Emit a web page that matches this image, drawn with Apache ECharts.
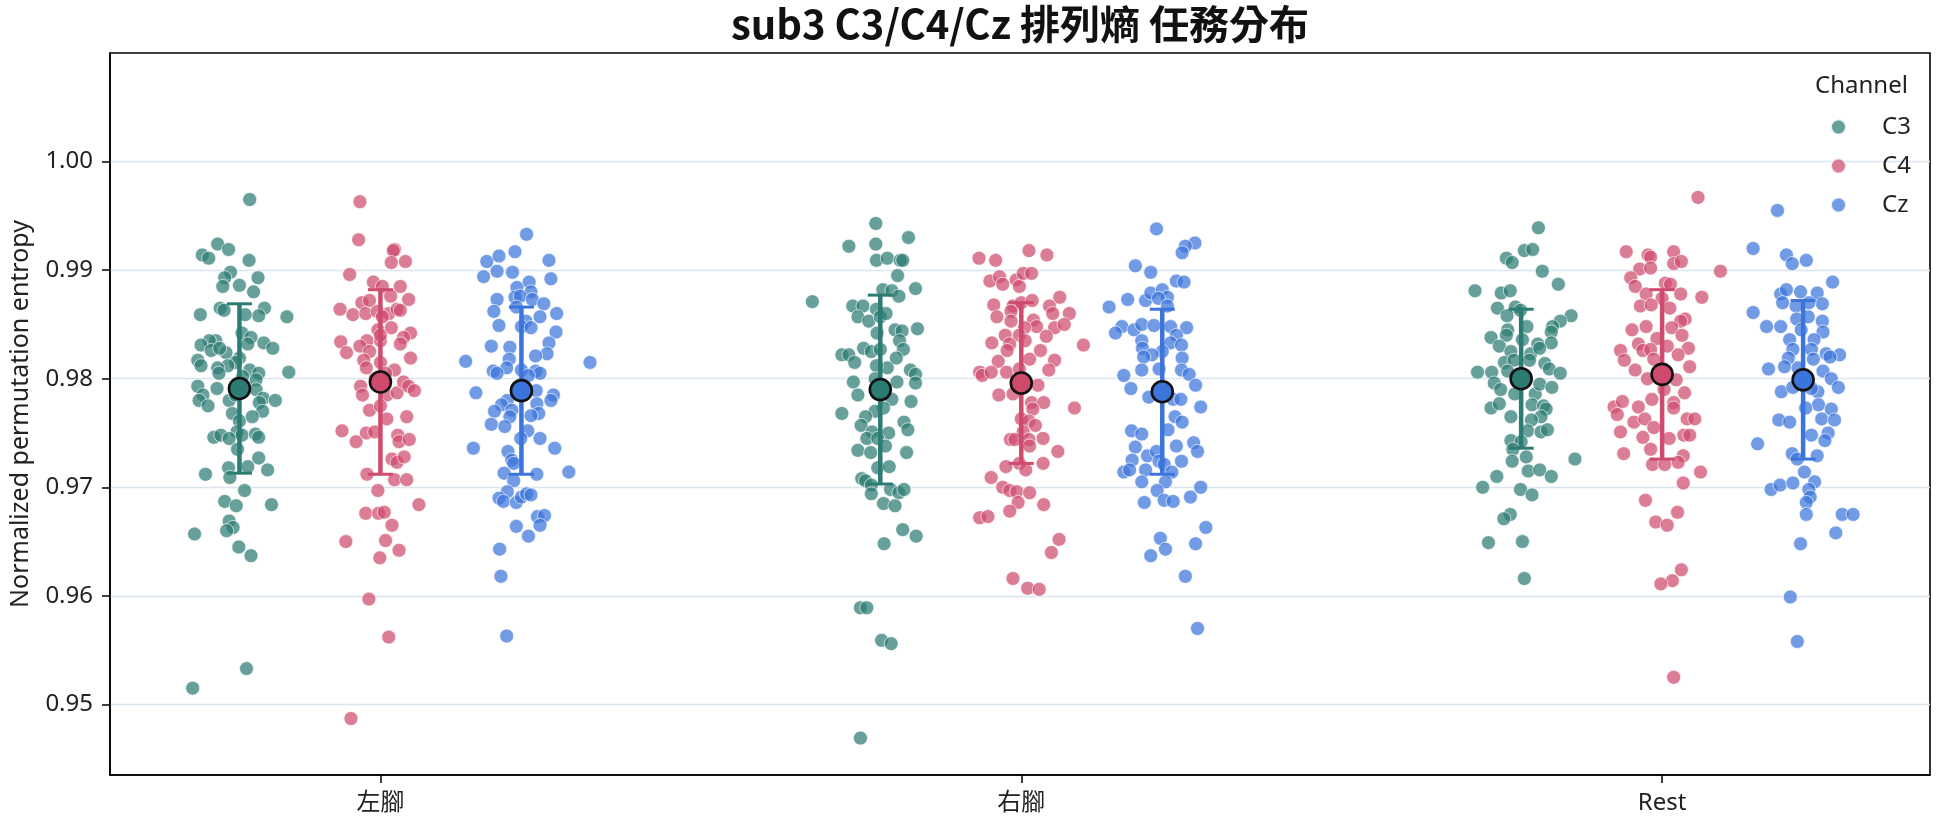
<!DOCTYPE html>
<html>
<head>
<meta charset="utf-8">
<script src="https://cdn.jsdelivr.net/npm/echarts@6/dist/echarts.min.js"></script>
<style>
html,body{margin:0;padding:0;background:#fff;}
#chart{width:1944px;height:827px;}
</style>
</head>
<body>
<div id="chart"></div>
<script>
const TITLE = 'sub3 C3/C4/Cz 排列熵 任務分布';
const Y_NAME = 'Normalized permutation entropy';
const LEGEND_TITLE = 'Channel';
const categories = ['左腳', '右腳', 'Rest'];
const channels = ['C3', 'C4', 'Cz'];
const hueOffsets = [-0.22, 0, 0.22];
const yTicks = [0.95, 0.96, 0.97, 0.98, 0.99, 1.00];
const baseColors = ['#2c7c73', '#cf4b6e', '#3b74db'];

// Each entry: [entropy value, horizontal jitter in category units]
const leftC3 = [[0.9965,0.016],[0.9924,-0.034],[0.9919,-0.017],[0.9914,-0.058],[0.9911,-0.048],[0.9909,0.015],[0.9898,-0.014],[0.9893,-0.023],[0.9893,0.029],[0.9886,0],[0.9885,-0.026],[0.9880,0.022],[0.9865,0.039],[0.9865,-0.030],[0.9863,-0.024],[0.9859,-0.061],[0.9858,0.030],[0.9859,0.009],[0.9857,0.074],[0.9842,0.004],[0.9838,0.018],[0.9835,-0.037],[0.9835,-0.047],[0.9831,-0.060],[0.9833,0.038],[0.9828,0.052],[0.9832,0.013],[0.9824,-0.021],[0.9826,-0.044],[0.9828,-0.031],[0.9817,-0.065],[0.9812,-0.060],[0.9819,0],[0.9815,-0.006],[0.9812,-0.018],[0.9810,-0.034],[0.9805,-0.032],[0.9808,0.016],[0.9805,0.030],[0.9806,0.077],[0.9802,0.005],[0.9799,0.026],[0.9793,-0.065],[0.9791,-0.035],[0.9785,-0.057],[0.9780,-0.063],[0.9775,-0.049],[0.9780,-0.016],[0.9790,0.026],[0.9782,0.037],[0.9780,0.056],[0.9778,0.031],[0.9770,0.036],[0.9768,-0.011],[0.9761,0],[0.9765,0.020],[0.9751,-0.004],[0.9746,-0.040],[0.9748,-0.029],[0.9745,-0.016],[0.9748,0.004],[0.9749,0.025],[0.9746,0.030],[0.9735,-0.003],[0.9727,0.030],[0.9718,-0.017],[0.9719,0.013],[0.9712,-0.053],[0.9716,0.044],[0.9709,-0.015],[0.9697,0.008],[0.9687,-0.023],[0.9683,-0.005],[0.9684,0.050],[0.9669,-0.016],[0.9663,-0.010],[0.9660,-0.020],[0.9657,-0.070],[0.9645,-0.001],[0.9637,0.018],[0.9533,0.011],[0.9515,-0.073],[0.9795,-0.003],[0.9785,-0.006]];
const leftC4 = [[0.9963,-0.032],[0.9928,-0.034],[0.9919,0.022],[0.9918,0.020],[0.9907,0.017],[0.9908,0.039],[0.9896,-0.048],[0.9889,-0.011],[0.9885,0.003],[0.9885,0.031],[0.9873,0.044],[0.9876,0.016],[0.9870,-0.029],[0.9872,-0.017],[0.9864,-0.063],[0.9859,-0.043],[0.9860,-0.023],[0.9862,-0.005],[0.9860,0.013],[0.9864,0.026],[0.9863,0.031],[0.9857,0.003],[0.9847,0.017],[0.9845,-0.004],[0.9842,0.047],[0.9838,0.036],[0.9834,-0.062],[0.9835,-0.021],[0.9830,-0.032],[0.9835,0],[0.9832,0.031],[0.9824,-0.053],[0.9825,-0.017],[0.9819,0.047],[0.9817,-0.026],[0.9815,0],[0.9810,-0.022],[0.9808,0.022],[0.9805,0.008],[0.9793,-0.031],[0.9785,-0.028],[0.9785,0.010],[0.9787,0.026],[0.9797,0.036],[0.9793,0.044],[0.9789,0.053],[0.9771,-0.017],[0.9763,0.010],[0.9765,0.041],[0.9752,-0.060],[0.9750,-0.022],[0.9751,-0.009],[0.9742,-0.038],[0.9748,0.027],[0.9742,0.029],[0.9744,0.045],[0.9726,0.018],[0.9723,0.026],[0.9728,0.037],[0.9712,-0.021],[0.9707,0.022],[0.9707,0.041],[0.9697,-0.004],[0.9684,0.060],[0.9676,-0.023],[0.9676,-0.003],[0.9677,0.006],[0.9665,0.018],[0.9650,-0.054],[0.9651,0.008],[0.9642,0.029],[0.9635,-0.001],[0.9597,-0.018],[0.9562,0.013],[0.9487,-0.046],[0.9840,0],[0.9800,-0.008],[0.9775,0]];
const leftCz = [[0.9933,0.008],[0.9908,-0.054],[0.9913,-0.035],[0.9917,-0.010],[0.9909,0.043],[0.9894,-0.059],[0.9899,-0.038],[0.9898,-0.014],[0.9892,0.046],[0.9889,0.012],[0.9884,-0.007],[0.9880,0.015],[0.9875,-0.010],[0.9876,-0.002],[0.9873,0.017],[0.9873,-0.038],[0.9869,0.035],[0.9862,-0.043],[0.9866,-0.008],[0.9860,0.055],[0.9857,0.029],[0.9853,0.007],[0.9849,-0.035],[0.9848,0],[0.9847,0.015],[0.9843,0.054],[0.9833,0.043],[0.9830,-0.047],[0.9829,-0.018],[0.9823,0.040],[0.9821,0.022],[0.9816,-0.087],[0.9815,0.107],[0.9818,-0.019],[0.9810,-0.023],[0.9807,-0.044],[0.9805,-0.038],[0.9808,0],[0.9807,0.022],[0.9805,0.029],[0.9803,0.011],[0.9787,-0.071],[0.9789,0.023],[0.9785,0.050],[0.9780,0.046],[0.9780,-0.022],[0.9776,-0.031],[0.9770,-0.042],[0.9771,-0.015],[0.9777,0.024],[0.9768,0.027],[0.9766,0.015],[0.9765,-0.018],[0.9758,-0.047],[0.9756,-0.026],[0.9752,0.010],[0.9745,-0.001],[0.9745,0.029],[0.9736,-0.075],[0.9736,0.052],[0.9733,-0.021],[0.9725,-0.015],[0.9722,-0.012],[0.9714,0.074],[0.9713,-0.027],[0.9712,0.024],[0.9706,-0.012],[0.9696,-0.022],[0.9690,-0.035],[0.9687,-0.028],[0.9686,-0.008],[0.9691,0],[0.9694,0.008],[0.9693,0.015],[0.9673,0.025],[0.9674,0.036],[0.9665,0.029],[0.9664,-0.008],[0.9655,0.011],[0.9643,-0.034],[0.9618,-0.032],[0.9563,-0.023]];
const rightC3 = [[0.9943,-0.007],[0.9930,0.044],[0.9922,-0.049],[0.9924,-0.007],[0.9909,-0.006],[0.9911,0.011],[0.9909,0.031],[0.9909,0.035],[0.9895,0.027],[0.9882,0.004],[0.9881,0.018],[0.9876,0.029],[0.9883,0.055],[0.9871,-0.106],[0.9867,-0.043],[0.9867,-0.027],[0.9864,-0.006],[0.9857,-0.035],[0.9853,-0.018],[0.9857,0],[0.9860,0.009],[0.9846,0.058],[0.9845,0.023],[0.9844,0.034],[0.9842,-0.005],[0.9835,0.030],[0.9827,0.036],[0.9828,-0.026],[0.9825,-0.014],[0.9822,-0.060],[0.9822,-0.049],[0.9815,-0.040],[0.9827,0],[0.9819,0.025],[0.9810,0.011],[0.9812,-0.006],[0.9808,0.047],[0.9804,0.055],[0.9796,0.055],[0.9797,-0.042],[0.9797,0.026],[0.9800,-0.008],[0.9785,-0.035],[0.9781,0.018],[0.9779,0.048],[0.9773,0.005],[0.9768,-0.060],[0.9770,-0.008],[0.9765,-0.023],[0.9757,-0.030],[0.9760,0.037],[0.9753,0.043],[0.9750,0.013],[0.9751,-0.013],[0.9745,-0.021],[0.9745,-0.004],[0.9738,0.008],[0.9734,-0.035],[0.9732,-0.015],[0.9732,0.041],[0.9718,-0.004],[0.9719,0.014],[0.9708,-0.029],[0.9706,-0.023],[0.9702,-0.014],[0.9698,0.016],[0.9695,0.029],[0.9698,0.037],[0.9694,-0.014],[0.9685,0.005],[0.9683,0.023],[0.9661,0.035],[0.9655,0.056],[0.9648,0.006],[0.9589,-0.031],[0.9589,-0.021],[0.9559,0.002],[0.9556,0.017],[0.9469,-0.031]];
const rightC4 = [[0.9918,0.012],[0.9914,0.040],[0.9911,-0.066],[0.9909,-0.040],[0.9890,-0.049],[0.9894,-0.034],[0.9887,-0.029],[0.9891,-0.008],[0.9885,-0.003],[0.9897,0.003],[0.9897,0.016],[0.9875,0.060],[0.9868,-0.043],[0.9867,-0.013],[0.9870,0],[0.9872,0.017],[0.9867,0.044],[0.9860,0.049],[0.9860,0.075],[0.9857,-0.038],[0.9862,-0.016],[0.9853,-0.016],[0.9854,0.019],[0.9848,0.024],[0.9847,0.052],[0.9850,0.067],[0.9847,0.005],[0.9840,-0.025],[0.9840,-0.003],[0.9839,0.039],[0.9831,0.097],[0.9833,-0.046],[0.9832,-0.018],[0.9835,0.006],[0.9826,0.030],[0.9826,-0.022],[0.9818,0.013],[0.9816,-0.036],[0.9817,0.052],[0.9806,-0.065],[0.9803,-0.061],[0.9806,-0.047],[0.9806,-0.023],[0.9809,-0.003],[0.9808,0.043],[0.9794,0.026],[0.9785,-0.035],[0.9786,-0.013],[0.9778,0.016],[0.9778,0.035],[0.9773,0.083],[0.9772,0.018],[0.9763,0],[0.9761,0.012],[0.9757,0.022],[0.9751,0.003],[0.9744,-0.017],[0.9744,-0.010],[0.9744,0.012],[0.9745,0.034],[0.9733,0.057],[0.9738,0.013],[0.9719,-0.024],[0.9722,-0.003],[0.9716,0.007],[0.9722,0.034],[0.9709,-0.047],[0.9700,-0.029],[0.9697,-0.018],[0.9696,-0.007],[0.9695,0.013],[0.9684,0.035],[0.9686,-0.005],[0.9678,-0.018],[0.9672,-0.065],[0.9673,-0.052],[0.9652,0.059],[0.9640,0.047],[0.9616,-0.013],[0.9607,0.010],[0.9606,0.028]];
const rightCz = [[0.9938,-0.009],[0.9925,0.051],[0.9922,0.036],[0.9916,0.031],[0.9904,-0.042],[0.9898,-0.018],[0.9890,0.022],[0.9889,0.034],[0.9866,-0.083],[0.9873,-0.054],[0.9872,-0.026],[0.9879,-0.018],[0.9882,0],[0.9875,0.008],[0.9874,-0.006],[0.9867,0.008],[0.9848,-0.063],[0.9842,-0.073],[0.9845,-0.044],[0.9850,-0.032],[0.9849,-0.013],[0.9848,0.013],[0.9847,0.038],[0.9840,0.022],[0.9835,-0.032],[0.9833,0.013],[0.9831,0.030],[0.9828,-0.031],[0.9825,0],[0.9822,-0.016],[0.9820,-0.029],[0.9819,0.031],[0.9808,-0.032],[0.9809,-0.005],[0.9808,0.030],[0.9804,0.042],[0.9803,-0.060],[0.9791,-0.049],[0.9794,0.052],[0.9783,-0.021],[0.9781,0.017],[0.9781,0.029],[0.9774,0.060],[0.9765,0.020],[0.9760,0.031],[0.9753,0.009],[0.9752,-0.048],[0.9749,-0.032],[0.9737,-0.042],[0.9738,0.022],[0.9741,0.049],[0.9733,0.055],[0.9729,-0.023],[0.9733,-0.009],[0.9724,-0.005],[0.9725,-0.047],[0.9724,0.030],[0.9721,0.003],[0.9714,-0.060],[0.9716,-0.051],[0.9716,-0.026],[0.9714,0.015],[0.9705,-0.032],[0.9705,0.005],[0.9700,0.060],[0.9697,-0.008],[0.9691,0.044],[0.9686,-0.028],[0.9688,0.003],[0.9687,0.017],[0.9663,0.068],[0.9653,-0.003],[0.9648,0.052],[0.9643,0.005],[0.9637,-0.018],[0.9618,0.036],[0.9570,0.055]];
const restC3 = [[0.9939,0.027],[0.9918,0.005],[0.9919,0.018],[0.9911,-0.023],[0.9907,-0.014],[0.9899,0.033],[0.9881,-0.072],[0.9879,-0.031],[0.9881,-0.017],[0.9887,0.058],[0.9866,-0.009],[0.9865,-0.037],[0.9863,-0.001],[0.9858,-0.022],[0.9848,0.009],[0.9858,0.078],[0.9853,0.061],[0.9848,0.049],[0.9845,-0.021],[0.9840,-0.023],[0.9838,-0.047],[0.9843,0.047],[0.9830,-0.034],[0.9836,0.002],[0.9832,0.026],[0.9833,0.047],[0.9823,0.015],[0.9825,-0.016],[0.9828,0.029],[0.9815,-0.026],[0.9817,-0.011],[0.9817,0.013],[0.9814,0.037],[0.9809,0.044],[0.9806,-0.068],[0.9806,-0.046],[0.9807,-0.021],[0.9805,0.061],[0.9796,-0.042],[0.9790,-0.032],[0.9786,-0.010],[0.9786,0.022],[0.9795,0.029],[0.9792,0.048],[0.9773,-0.047],[0.9777,-0.034],[0.9776,0.017],[0.9775,0.035],[0.9772,0.039],[0.9765,-0.016],[0.9765,0.031],[0.9762,0.016],[0.9752,0.010],[0.9751,0.031],[0.9753,0.041],[0.9743,-0.016],[0.9742,0],[0.9735,-0.013],[0.9728,0.008],[0.9726,0.084],[0.9724,-0.014],[0.9715,0.011],[0.9716,0.029],[0.9710,0.047],[0.9710,-0.038],[0.9700,-0.060],[0.9698,-0.001],[0.9693,0.017],[0.9675,-0.017],[0.9671,-0.027],[0.9649,-0.051],[0.9650,0.002],[0.9616,0.005]];
const restC4 = [[0.9967,0.056],[0.9917,-0.056],[0.9914,-0.022],[0.9912,-0.018],[0.9917,0.018],[0.9906,0.018],[0.9908,0.030],[0.9901,-0.035],[0.9902,-0.018],[0.9899,0.091],[0.9893,-0.049],[0.9885,-0.042],[0.9888,0.005],[0.9887,0.013],[0.9878,-0.025],[0.9878,0.029],[0.9875,0.062],[0.9874,0],[0.9867,-0.034],[0.9868,-0.017],[0.9865,0.012],[0.9855,0.036],[0.9853,0.029],[0.9848,-0.025],[0.9845,-0.047],[0.9847,0.015],[0.9840,0.031],[0.9837,-0.008],[0.9832,-0.037],[0.9830,0.008],[0.9828,0.041],[0.9826,-0.065],[0.9826,-0.030],[0.9827,-0.018],[0.9822,0.025],[0.9817,-0.059],[0.9818,-0.013],[0.9808,-0.042],[0.9811,0.043],[0.9800,-0.023],[0.9799,0.022],[0.9790,0.003],[0.9787,0.035],[0.9781,-0.016],[0.9778,0.018],[0.9774,-0.075],[0.9779,-0.062],[0.9767,-0.070],[0.9774,-0.037],[0.9773,0.018],[0.9760,-0.044],[0.9763,-0.027],[0.9755,-0.013],[0.9763,0.039],[0.9763,0.051],[0.9751,-0.065],[0.9746,-0.030],[0.9745,0.011],[0.9748,0.034],[0.9748,0.043],[0.9735,-0.018],[0.9731,-0.060],[0.9729,0.033],[0.9723,0.025],[0.9721,-0.015],[0.9721,0.004],[0.9714,0.060],[0.9704,0.033],[0.9688,-0.026],[0.9677,0.024],[0.9668,-0.010],[0.9665,0.008],[0.9624,0.030],[0.9614,0.016],[0.9611,-0.002],[0.9525,0.018]];
const restCz = [[0.9955,-0.040],[0.9920,-0.078],[0.9914,-0.026],[0.9906,-0.017],[0.9909,0.005],[0.9889,0.046],[0.9878,-0.035],[0.9882,-0.026],[0.9870,-0.032],[0.9880,-0.004],[0.9879,0.022],[0.9869,0.030],[0.9867,-0.011],[0.9870,0.009],[0.9861,-0.078],[0.9855,-0.010],[0.9857,0.008],[0.9853,0.030],[0.9848,-0.057],[0.9848,-0.035],[0.9845,-0.003],[0.9843,0.031],[0.9836,-0.021],[0.9836,0.017],[0.9827,-0.016],[0.9827,0.013],[0.9823,0.036],[0.9822,0.057],[0.9819,-0.023],[0.9818,0.016],[0.9820,0.042],[0.9809,-0.054],[0.9811,-0.029],[0.9810,-0.008],[0.9807,0.031],[0.9800,0.044],[0.9792,0.055],[0.9788,-0.034],[0.9792,-0.016],[0.9788,0.023],[0.9791,0.013],[0.9776,0.024],[0.9773,0.004],[0.9772,0.044],[0.9762,-0.038],[0.9760,-0.021],[0.9763,0.029],[0.9762,0.049],[0.9748,0.013],[0.9750,0.039],[0.9743,0.034],[0.9740,-0.071],[0.9731,-0.017],[0.9726,-0.009],[0.9729,0.022],[0.9714,0.002],[0.9698,-0.050],[0.9702,-0.036],[0.9704,-0.016],[0.9705,0.018],[0.9698,0.009],[0.9691,0.011],[0.9686,0.005],[0.9675,0.005],[0.9675,0.061],[0.9675,0.078],[0.9658,0.051],[0.9648,-0.004],[0.9599,-0.020],[0.9558,-0.009]];

// Mean and standard deviation per category (左腳, 右腳, Rest)
const meanC3 = [0.9791, 0.9790, 0.9800];
const sdC3   = [0.0078, 0.0087, 0.0064];
const meanC4 = [0.9797, 0.9796, 0.9804];
const sdC4   = [0.0085, 0.0074, 0.0078];
const meanCz = [0.9789, 0.9788, 0.9799];
const sdCz   = [0.0077, 0.0076, 0.0073];

const groups = {
  C3: { pts: [leftC3, rightC3, restC3], mean: meanC3, sd: sdC3 },
  C4: { pts: [leftC4, rightC4, restC4], mean: meanC4, sd: sdC4 },
  Cz: { pts: [leftCz, rightCz, restCz], mean: meanCz, sd: sdCz }
};

const FONT = "'Noto Sans', 'Noto Sans CJK TC', sans-serif";
const TITLE_FONT = "'Noto Sans CJK TC', 'Noto Sans', sans-serif";
const chart = echarts.init(document.getElementById('chart'), null, { renderer: 'canvas' });

const series = [];
channels.forEach((ch, h) => {
  const g = groups[ch];
  const data = [];
  g.pts.forEach((arr, ci) => {
    arr.forEach(([v, j]) => data.push([ci + hueOffsets[h] + j, v]));
  });
  series.push({
    name: ch, type: 'scatter', data: data, symbol: 'circle', symbolSize: 14,
    itemStyle: { color: baseColors[h], opacity: 0.72, borderColor: '#ffffff', borderWidth: 0.9 },
    emphasis: { disabled: true }, z: 2
  });
});
channels.forEach((ch, h) => {
  const g = groups[ch];
  const eb = categories.map((c, ci) => [ci + hueOffsets[h], g.mean[ci], g.sd[ci]]);
  const col = baseColors[h];
  series.push({
    name: ch + ' sd', type: 'custom', data: eb, z: 5,
    encode: { x: 0, y: 1 },
    renderItem: function (params, api) {
      const x = api.value(0), m = api.value(1), s = api.value(2);
      const top = api.coord([x, m + s]);
      const bot = api.coord([x, m - s]);
      const cap = 12.5;
      return {
        type: 'group', children: [
          { type: 'line', shape: { x1: top[0], y1: top[1], x2: bot[0], y2: bot[1] }, style: { stroke: col, lineWidth: 4.5 } },
          { type: 'line', shape: { x1: top[0] - cap, y1: top[1], x2: top[0] + cap, y2: top[1] }, style: { stroke: col, lineWidth: 3 } },
          { type: 'line', shape: { x1: bot[0] - cap, y1: bot[1], x2: bot[0] + cap, y2: bot[1] }, style: { stroke: col, lineWidth: 3 } }
        ]
      };
    }
  });
  series.push({
    name: ch + ' mean', type: 'scatter', z: 6, symbol: 'circle', symbolSize: 21,
    data: categories.map((c, ci) => [ci + hueOffsets[h], g.mean[ci]]),
    itemStyle: { color: col, opacity: 1, borderColor: '#111111', borderWidth: 2.6 },
    emphasis: { disabled: true }
  });
});

const option = {
  backgroundColor: '#ffffff',
  animation: false,
  textStyle: { fontFamily: FONT },
  title: [
    { text: TITLE, left: 1020, textAlign: 'center', top: 4, padding: 0,
      textStyle: { fontFamily: TITLE_FONT, fontSize: 40, fontWeight: 'bold', color: '#111' } },
    { text: LEGEND_TITLE, left: 1815, top: 74, padding: 0,
      textStyle: { fontFamily: FONT, fontSize: 24, fontWeight: 'normal', color: '#222' } }
  ],
  legend: {
    data: channels, orient: 'vertical', left: 1830, top: 114, padding: 0,
    icon: 'circle', itemWidth: 15, itemHeight: 15, itemGap: 13,
    textStyle: { fontFamily: FONT, fontSize: 24, color: '#222', lineHeight: 26, padding: [0, 0, 0, 31] },
    selectedMode: false
  },
  grid: { left: 110, right: 14, top: 53, bottom: 52, show: true, borderColor: '#000', borderWidth: 1.6, containLabel: false },
  xAxis: {
    type: 'value', min: -0.422, max: 2.418,
    axisLine: { show: true, onZero: false, lineStyle: { color: '#000', width: 1.6 } },
    axisTick: { show: true, customValues: [0, 1, 2], length: 8, lineStyle: { color: '#000', width: 1.5 } },
    axisLabel: { customValues: [0, 1, 2], formatter: v => categories[Math.round(v)], fontFamily: FONT, fontSize: 24, color: '#222', margin: 16 },
    splitLine: { show: false }
  },
  yAxis: {
    type: 'value', min: 0.9435, max: 1.01,
    name: Y_NAME, nameLocation: 'middle', nameGap: 77,
    nameTextStyle: { fontFamily: FONT, fontSize: 25, color: '#222' },
    axisLine: { show: true, onZero: false, lineStyle: { color: '#000', width: 1.6 } },
    axisTick: { show: true, customValues: yTicks, length: 8, lineStyle: { color: '#000', width: 1.5 } },
    axisLabel: { customValues: yTicks, formatter: v => v.toFixed(2), fontFamily: FONT, fontSize: 24, color: '#222', margin: 17 },
    splitLine: { show: true, lineStyle: { color: '#dce5ee', width: 1.4 } }
  },
  series: series
};
chart.setOption(option);
</script>
</body>
</html>
